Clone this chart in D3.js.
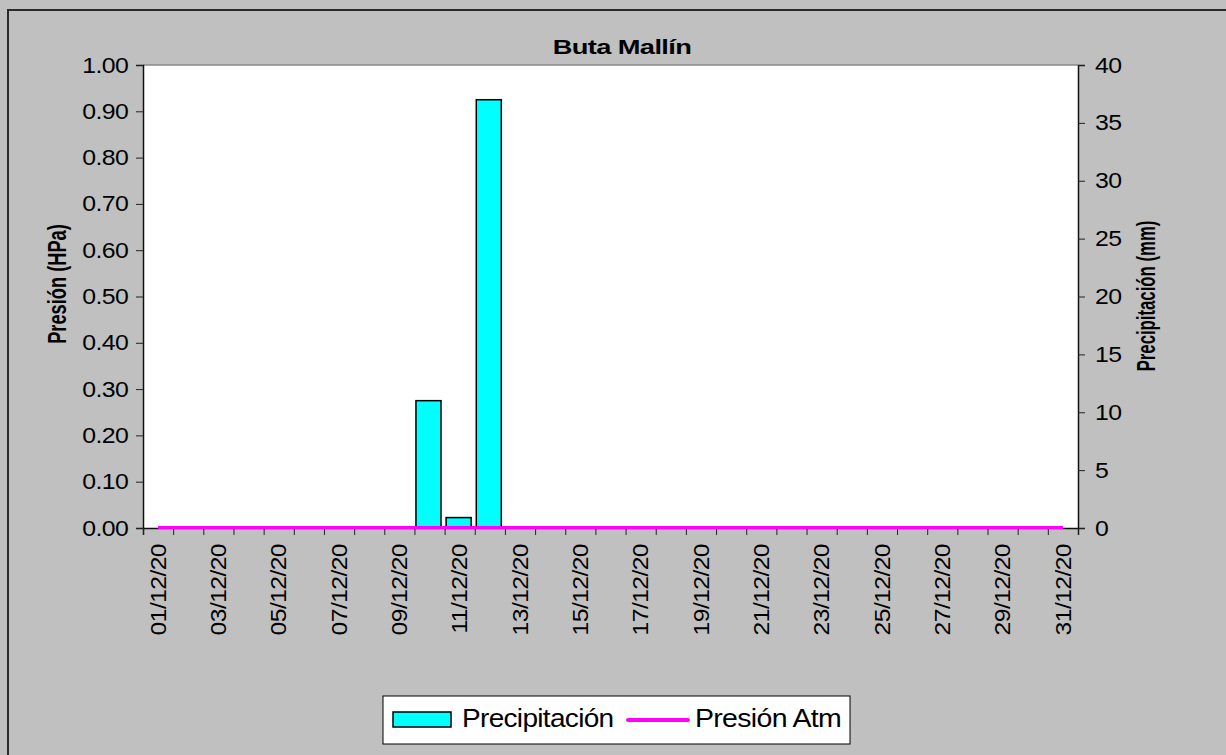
<!DOCTYPE html>
<html>
<head>
<meta charset="utf-8">
<script src="https://cdn.jsdelivr.net/npm/d3@7"></script>
<style>
  body { margin: 0; background: #c0c0c0; }
  text { font-family: Arial, "Liberation Sans", sans-serif; fill: #000; }
</style>
</head>
<body>
<svg id="chart"></svg>
<script>
let days = ["01/12/20","02/12/20","03/12/20","04/12/20","05/12/20","06/12/20","07/12/20","08/12/20",
            "09/12/20","10/12/20","11/12/20","12/12/20","13/12/20","14/12/20","15/12/20","16/12/20",
            "17/12/20","18/12/20","19/12/20","20/12/20","21/12/20","22/12/20","23/12/20","24/12/20",
            "25/12/20","26/12/20","27/12/20","28/12/20","29/12/20","30/12/20","31/12/20"]

// precipitacion diaria (mm)
let precip = [0,0,0,0,0,0,0,0,0,11.0,0.9,37.0,0,0,0,0,0,0,0,0,0,0,0,0,0,0,0,0,0,0,0]
// presion atm (HPa) - sin datos, todo en cero
let presion = [0,0,0,0,0,0,0,0,0,0,0,0,0,0,0,0,0,0,0,0,0,0,0,0,0,0,0,0,0,0,0]

let leftTicks = [0,0.1,0.2,0.3,0.4,0.5,0.6,0.7,0.8,0.9,1.0]
let rightTicks = [0,5,10,15,20,25,30,35,40]
let dayLabels = days.filter((d, i) => i % 2 == 0)

let width = 1226
let height = 755
let plot = {left: 143, right: 1078, top: 65, bottom: 528}

let svg = d3.select("#chart")
    .attr("width", width)
    .attr("height", height)

// fondo y marco
svg.append("rect")
    .attr("width", width)
    .attr("height", height)
    .attr("fill", "#c0c0c0")

svg.append("rect")
    .attr("x", 8)
    .attr("y", 10)
    .attr("width", width + 20)
    .attr("height", height + 20)
    .attr("fill", "none")
    .attr("stroke", "#2a2a2a")
    .attr("stroke-width", 2)

svg.append("rect")
    .attr("x", plot.left)
    .attr("y", plot.top)
    .attr("width", plot.right - plot.left)
    .attr("height", plot.bottom - plot.top)
    .attr("fill", "#fff")

svg.append("line")
    .attr("x1", plot.left).attr("x2", plot.right)
    .attr("y1", plot.top).attr("y2", plot.top)
    .attr("stroke", "#8a8a8a")
    .attr("stroke-width", 1.5)

// escalas
let xBand = d3.scaleBand().domain(days).range([plot.left, plot.right]).padding(0)
let xEdge = d3.scaleLinear().domain([0, days.length]).range([plot.left, plot.right])
let yPres = d3.scaleLinear().domain([0, 1]).range([plot.bottom, plot.top])
let yPrec = d3.scaleLinear().domain([0, 40]).range([plot.bottom, plot.top])
let bw = xBand.bandwidth()

// barras
svg.selectAll(".bar")
    .data(days.map((d, i) => ({day: d, v: precip[i]})).filter(d => d.v > 0))
    .enter()
    .append("rect")
    .attr("class", "bar")
    .attr("x", d => xBand(d.day) + bw * 0.05)
    .attr("width", bw * 0.83)
    .attr("y", d => yPrec(d.v))
    .attr("height", d => yPrec(0) - yPrec(d.v))
    .attr("fill", "#00ffff")
    .attr("stroke", "#000")
    .attr("stroke-width", 1.5)

// ejes
let tickFont = (sel) => {
    sel.selectAll("text")
        .style("font-size", "22px")
        .style("letter-spacing", "-0.5px")
    sel.selectAll("line").attr("stroke", "#222")
    sel.select(".domain").attr("stroke", "#111").attr("stroke-width", 1.5)
}

let gLeft = svg.append("g")
    .attr("transform", "translate(" + plot.left + ",0)")
    .call(d3.axisLeft(yPres).tickValues(leftTicks).tickFormat(d3.format(".2f")).tickSizeOuter(0).tickSize(7))
gLeft.call(tickFont)
gLeft.selectAll("text")
    .attr("x", -13)
    .attr("transform", "scale(1.13,1)")

let gRight = svg.append("g")
    .attr("transform", "translate(" + plot.right + ",0)")
    .call(d3.axisRight(yPrec).tickValues(rightTicks).tickSizeOuter(0).tickSize(7))
gRight.call(tickFont)
gRight.selectAll("text")
    .attr("x", 15)
    .attr("transform", "scale(1.13,1)")

let gBottom = svg.append("g")
    .attr("transform", "translate(0," + plot.bottom + ")")
    .call(d3.axisBottom(xEdge).tickValues(d3.range(days.length + 1)).tickFormat("").tickSizeOuter(0).tickSize(7))
gBottom.call(tickFont)

let gLabels = svg.append("g")
    .attr("transform", "translate(0," + plot.bottom + ")")
    .call(d3.axisBottom(xBand).tickValues(dayLabels).tickSize(0))
gLabels.select(".domain").remove()
gLabels.selectAll("text")
    .style("font-size", "22px")
    .style("letter-spacing", "-0.5px")
    .attr("text-anchor", "end")
    .attr("x", 0)
    .attr("y", 0)
    .attr("dy", "0.35em")
    .attr("transform", "translate(0,16) rotate(-90) scale(1.12,1)")

// linea presion
let line = d3.line()
    .x(d => xBand(d.day) + bw / 2)
    .y(d => yPres(d.v) - 0.5)

svg.append("path")
    .datum(days.map((d, i) => ({day: d, v: presion[i]})))
    .attr("d", line)
    .attr("fill", "none")
    .attr("stroke", "#ff00ff")
    .attr("stroke-width", 3)

// titulos
svg.append("text")
    .attr("transform", "translate(622,54) scale(1.3,1)")
    .attr("text-anchor", "middle")
    .style("font-size", "21px")
    .style("font-weight", "bold")
    .style("letter-spacing", "-0.5px")
    .text("Buta Mallín")

svg.append("text")
    .attr("transform", "translate(66,284) rotate(-90) scale(0.73,1)")
    .attr("text-anchor", "middle")
    .style("font-size", "25px")
    .style("font-weight", "bold")
    .text("Presión (HPa)")

svg.append("text")
    .attr("transform", "translate(1155,296) rotate(-90) scale(0.67,1)")
    .attr("text-anchor", "middle")
    .style("font-size", "25px")
    .style("font-weight", "bold")
    .text("Precipitación (mm)")

// leyenda
let legend = svg.append("g").attr("transform", "translate(383,696)")

legend.append("rect")
    .attr("width", 467)
    .attr("height", 48)
    .attr("fill", "#fff")
    .attr("stroke", "#000")
    .attr("stroke-width", 1)

legend.append("rect")
    .attr("x", 10)
    .attr("y", 16)
    .attr("width", 58)
    .attr("height", 15)
    .attr("fill", "#00ffff")
    .attr("stroke", "#000")
    .attr("stroke-width", 1.5)

legend.append("text")
    .attr("transform", "translate(79,31) scale(1.12,1)")
    .style("font-size", "25px")
    .style("letter-spacing", "-0.6px")
    .text("Precipitación")

legend.append("line")
    .attr("x1", 245).attr("x2", 305)
    .attr("y1", 24).attr("y2", 24)
    .attr("stroke", "#ff00ff")
    .attr("stroke-width", 4)
    .attr("stroke-linecap", "round")

legend.append("text")
    .attr("transform", "translate(312,31) scale(1.14,1)")
    .style("font-size", "25px")
    .style("letter-spacing", "-0.6px")
    .text("Presión Atm")
</script>
</body>
</html>
